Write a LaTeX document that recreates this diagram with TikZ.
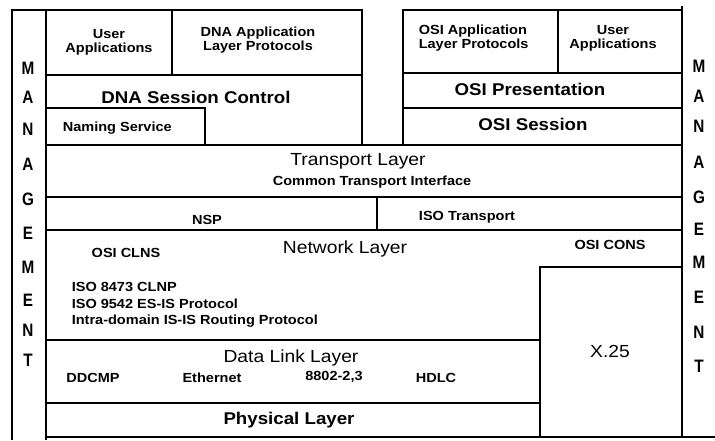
\documentclass[tikz,border=0pt]{standalone}
\usepackage{fontspec}
\setmainfont{Liberation Sans}[FakeStretch=1.1]
\newfontfamily\mgfont{Liberation Sans}[FakeStretch=0.85]
\begin{document}
\begin{tikzpicture}[x=1pt,y=-1pt,line width=1.6pt,
  lab/.style={font=\fontsize{13.2}{13.8}\selectfont\bfseries,inner sep=0pt,align=center},
  labl/.style={lab,anchor=west,align=left},
  big/.style={font=\fontsize{17.5}{20}\selectfont,inner sep=0pt},
  bigb/.style={font=\fontsize{17}{20}\selectfont\bfseries,inner sep=0pt},
  mg/.style={font=\mgfont\fontsize{18}{19}\selectfont\bfseries,inner sep=0pt}]
\useasboundingbox (0,0) rectangle (715,440);
% left management column and left stack
\draw (12,440) -- (12,10) -- (362,10) -- (362,145);
\draw (46,10) -- (46,440);
\draw (46,75) -- (362,75);
\draw (172,10) -- (172,75);
\draw (46,108) -- (205,108) -- (205,145);
% right stack
\draw (403,145) -- (403,10) -- (682,10);
\draw (403,73) -- (682,73);
\draw (558,10) -- (558,73);
\draw (403,108) -- (682,108);
\draw (682,6) -- (682,437);
% full-width rows
\draw (46,145) -- (682,145);
\draw (46,197) -- (682,197);
\draw (377,197) -- (377,230);
\draw (46,230) -- (682,230);
\draw (540,437) -- (540,267) -- (682,267);
\draw (46,340) -- (540,340);
\draw (46,403) -- (540,403);
\draw (46,437) -- (715,437);
% texts
\node[lab] (ua1) at (109,42) {User\\Applications};
\node[lab] (dnaap) at (258,40) {DNA Application\\Layer Protocols};
\node[bigb] (dnasc) at (196,97) {DNA Session Control};
\node[labl] (ns) at (62,128) {Naming Service};
\node[labl] (osiap) at (418,38) {OSI Application\\Layer Protocols};
\node[lab] (ua2) at (613,38) {User\\Applications};
\node[bigb] (pres) at (530,89) {OSI Presentation};
\node[bigb] (sess) at (533,124) {OSI Session};
\node[big] (tl) at (358,161) {Transport Layer};
\node[lab] (cti) at (372,182) {Common Transport Interface};
\node[lab] (nsp) at (207,220) {NSP};
\node[lab] (isot) at (467,217) {ISO Transport};
\node[lab] (clns) at (126,253) {OSI CLNS};
\node[big] (nl) at (345,249) {Network Layer};
\node[lab] (cons) at (610,245) {OSI CONS};
\node[labl] (c1) at (71,287) {ISO 8473 CLNP};
\node[labl] (c2) at (71,304) {ISO 9542 ES-IS Protocol};
\node[labl] (c3) at (71,321) {Intra-domain IS-IS Routing Protocol};
\node[big] (dl) at (291,358) {Data Link Layer};
\node[lab] (ddcmp) at (93,378) {DDCMP};
\node[lab] (eth) at (212,378) {Ethernet};
\node[lab] (iso8802) at (334,377) {8802-2,3};
\node[lab] (hdlc) at (436,378) {HDLC};
\node[bigb] (phys) at (289,420) {Physical Layer};
\node[big] (x25) at (610,351) {X.25};
% management letters
\foreach \l/\yl/\yr [count=\i] in {M/68/66,A/97/96,N/129/126,A/164/162,G/199/197,E/233/229,M/267/262,E/300/297,N/330/332,T/360/366} {
  \node[mg] (lm\i) at (28,\yl) {\l};
  \node[mg] (rm\i) at (699,\yr) {\l};
}
\end{tikzpicture}
\end{document}
